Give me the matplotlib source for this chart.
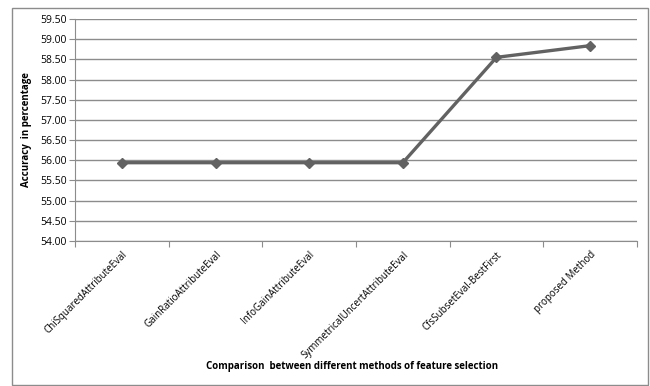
import matplotlib
matplotlib.use("Agg")
import matplotlib.pyplot as plt
from matplotlib.patches import Rectangle

methods = [
    "ChiSquaredAttributeEval",
    "GainRatioAttributeEval",
    "InfoGainAttributeEval",
    "SymmetricalUncertAttributeEval",
    "CfsSubsetEval-BestFirst",
    "proposed Method",
]
accuracy = [55.94, 55.94, 55.94, 55.94, 58.55, 58.84]
y_ticks = [54.0 + 0.5 * i for i in range(12)]

plt.rcParams["font.family"] = ["Open Sans", "DejaVu Sans"]

fig = plt.figure(figsize=(6.5, 3.86), dpi=100)
ax = fig.add_axes([75 / 650, 1 - 241 / 386, (637 - 75) / 650, (241 - 19) / 386])

positions = list(range(len(methods)))
ax.plot(positions, accuracy, color="#626262", linewidth=2.4,
        marker="D", markersize=5, markerfacecolor="#626262",
        markeredgecolor="#626262", zorder=3)

ax.set_ylim(54.0, 59.5)
ax.set_yticks(y_ticks)
ax.set_yticklabels([f"{v:.2f}" for v in y_ticks], fontsize=7.5)
ax.yaxis.grid(True, color="#8c8c8c", linewidth=1)
ax.set_axisbelow(True)

ax.set_xlim(-0.5, len(methods) - 0.5)
ax.set_xticks([p - 0.5 for p in positions] + [len(methods) - 0.5])
ax.set_xticklabels([])
ax.set_xticks(positions, minor=True)
ax.set_xticklabels(methods, minor=True, rotation=45, ha="right",
                   rotation_mode="anchor", fontsize=7)
ax.tick_params(axis="x", which="minor", length=0, pad=6)
ax.tick_params(axis="x", which="major", length=4, color="#8c8c8c")
ax.tick_params(axis="y", length=4, color="#8c8c8c", pad=2)

for side in ["top", "right"]:
    ax.spines[side].set_visible(False)
for side in ["left", "bottom"]:
    ax.spines[side].set_color("#8c8c8c")

fig.text(27 / 650, 1 - 130 / 386, "Accuracy  in percentage", rotation=90,
         ha="center", va="center", fontsize=7, fontweight="bold")
fig.text(352 / 650, 1 - 366 / 386, "Comparison  between different methods of feature selection",
         ha="center", va="center", fontsize=7, fontweight="bold")

fig.patches.append(Rectangle((12 / 650, 1 / 386), 636 / 650, 377 / 386,
                             transform=fig.transFigure, fill=False,
                             edgecolor="#8c8c8c", linewidth=1))

fig.savefig("out.png", dpi=100)
